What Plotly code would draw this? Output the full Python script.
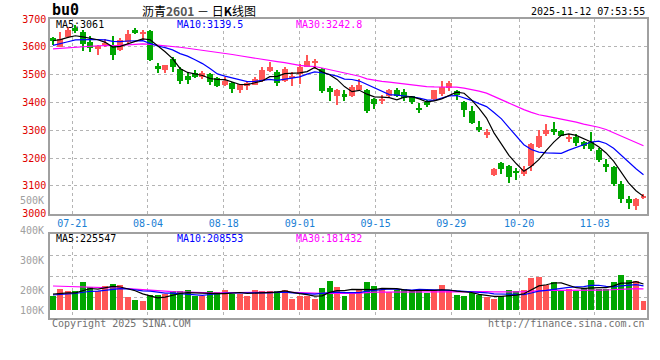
import plotly.graph_objects as go
import pandas as pd

# ---------------- data ----------------
opens = [3630, 3601, 3634, 3668, 3655, 3618, 3591, 3610, 3608, 3589,
         3618, 3659, 3645, 3658, 3531, 3515, 3558, 3522, 3494, 3505,
         3492, 3504, 3487, 3462, 3469, 3445, 3460, 3464, 3478, 3514,
         3511, 3478, 3488, 3504, 3528, 3543, 3521, 3452, 3423, 3429,
         3425, 3445, 3446, 3411, 3404, 3425, 3446, 3436, 3422, 3375,
         3402, 3412, 3431, 3451, 3440, 3402, 3369, 3313, 3283, 3140,
         3184, 3172, 3150, 3144, 3172, 3238, 3287, 3305, 3298, 3268,
         3277, 3259, 3257, 3230, 3180, 3168, 3108, 3051, 3027, 3055]
highs = [3635, 3655, 3672, 3678, 3660, 3638, 3606, 3628, 3638, 3632,
         3660, 3668, 3660, 3662, 3541, 3536, 3563, 3526, 3505, 3518,
         3512, 3506, 3492, 3490, 3472, 3462, 3475, 3490, 3526, 3545,
         3518, 3526, 3509, 3539, 3572, 3557, 3525, 3458, 3447, 3443,
         3461, 3486, 3450, 3415, 3426, 3450, 3452, 3449, 3425, 3398,
         3408, 3446, 3477, 3477, 3446, 3405, 3387, 3333, 3304, 3166,
         3187, 3175, 3164, 3172, 3253, 3301, 3322, 3328, 3300, 3286,
         3286, 3262, 3295, 3236, 3196, 3170, 3117, 3063, 3058, 3069]
lows = [3606, 3598, 3630, 3648, 3585, 3582, 3570, 3598, 3552, 3585,
        3612, 3645, 3625, 3548, 3505, 3506, 3510, 3465, 3468, 3488,
        3485, 3463, 3455, 3458, 3433, 3433, 3446, 3462, 3474, 3509,
        3460, 3474, 3458, 3467, 3526, 3521, 3435, 3406, 3390, 3407,
        3421, 3443, 3363, 3377, 3396, 3420, 3420, 3404, 3393, 3362,
        3384, 3407, 3425, 3440, 3410, 3346, 3323, 3295, 3271, 3137,
        3144, 3111, 3122, 3134, 3152, 3236, 3280, 3283, 3278, 3256,
        3245, 3233, 3224, 3186, 3149, 3099, 3039, 3018, 3015, 3051]
closes = [3621, 3629, 3660, 3656, 3612, 3595, 3604, 3614, 3570, 3624,
          3645, 3650, 3655, 3553, 3520, 3534, 3527, 3478, 3481, 3492,
          3507, 3473, 3460, 3477, 3448, 3465, 3471, 3486, 3516, 3526,
          3470, 3519, 3491, 3527, 3548, 3546, 3440, 3437, 3443, 3419,
          3455, 3464, 3368, 3395, 3413, 3446, 3425, 3417, 3402, 3373,
          3392, 3443, 3454, 3470, 3426, 3372, 3325, 3301, 3295, 3160,
          3162, 3132, 3148, 3160, 3251, 3280, 3301, 3295, 3281, 3277,
          3253, 3245, 3233, 3194, 3167, 3105, 3051, 3037, 3053, 3065]
volumes = [117600, 182000, 159600, 159600, 235200, 196000, 159600, 207200, 224000, 210000,
           109200, 89600, 75600, 131600, 131600, 140000, 159600, 159600, 168000, 117600,
           117600, 159600, 151200, 173600, 140000, 140000, 123200, 168000, 159600, 165200,
           165200, 173600, 98000, 117600, 123200, 98000, 187600, 243600, 193200, 117600,
           151200, 182000, 235200, 201600, 168000, 151200, 173600, 182000, 168000, 182000,
           145600, 173600, 210000, 159600, 131600, 117600, 145600, 131600, 109200, 98000,
           117600, 168000, 159600, 168000, 268800, 277200, 215600, 235200, 173600, 182000,
           159600, 187600, 257600, 182000, 182000, 235200, 299600, 257600, 249200, 81200]
# estimated sessions before the first visible candle (only feed the moving averages)
prior_closes = [3572, 3580, 3566, 3555, 3570, 3588, 3597, 3590, 3578, 3585,
                3600, 3606, 3595, 3588, 3597, 3604, 3592, 3585, 3593, 3599,
                3575, 3582, 3590, 3596, 3597, 3610, 3618, 3628, 3633]
prior_volumes = [230000, 265000, 250000, 280000, 245000, 220000, 255000, 270000, 240000, 260000,
                 235000, 250000, 225000, 245000, 270000, 240000, 230000, 255000, 240000, 203000,
                 118000, 135000, 122000, 110000, 135000, 150000, 138000, 162000, 132000]

date_labels = ['07-21', '08-04', '08-18', '09-01', '09-15', '09-29', '10-20', '11-03']
price_ticks = [3000, 3100, 3200, 3300, 3400, 3500, 3600, 3700]
vol_labels = ['500K', '400K', '300K', '200K', '100K']
price_ma_labels = ['MA5:3061', 'MA10:3139.5', 'MA30:3242.8']
vol_ma_labels = ['MA5:225547', 'MA10:208553', 'MA30:181432']

# ---------------- styling / layout constants ----------------
RED = '#ff5656'
GREEN = '#00a600'
MONO = 'DejaVu Sans Mono, Liberation Mono, monospace'
GRID = '#b4b4b4'
BORDER = '#a0a0a0'
W, H = 660, 360
PL, PR, PT, PB = 50, 649, 19, 318          # plot box in page pixels
L, T, R, B = PL, PT, W - PR, H - PB
PW, PH = PR - PL, PB - PT
grid_pos = [2.57, 12.71, 22.84, 33.03, 43.16, 53.29, 62.36, 72.49]
vol_label_y = [200.7, 230.7, 260.7, 290.7, 310.0]


def px(x):
    return (x - PL) / PW


def py(y):
    return (PB - y) / PH


n = len(closes)
idx = list(range(n))
all_c = pd.Series(prior_closes + closes)
all_v = pd.Series(prior_volumes + volumes)
k = len(prior_closes)
ma5 = all_c.rolling(5).mean().iloc[k:].tolist()
ma10 = all_c.rolling(10).mean().iloc[k:].tolist()
ma30 = all_c.rolling(30).mean().iloc[k:].tolist()
vma5 = all_v.rolling(5).mean().iloc[k:].tolist()
vma10 = all_v.rolling(10).mean().iloc[k:].tolist()
vma30 = all_v.rolling(30).mean().iloc[k:].tolist()

up = [c >= o for o, c in zip(opens, closes)]
fig = go.Figure()

# wicks
for flag, col in ((True, RED), (False, GREEN)):
    sel = [i for i in idx if up[i] == flag]
    fig.add_trace(go.Bar(x=sel, y=[highs[i] - lows[i] for i in sel],
                         base=[lows[i] for i in sel], width=0.14,
                         marker=dict(color=col, line=dict(width=0)),
                         xaxis='x', yaxis='y', hoverinfo='skip', showlegend=False))
# bodies
for flag, col in ((True, RED), (False, GREEN)):
    sel = [i for i in idx if up[i] == flag]
    fig.add_trace(go.Bar(x=sel, y=[max(abs(closes[i] - opens[i]), 3.6) for i in sel],
                         base=[min(opens[i], closes[i]) for i in sel], width=0.8,
                         marker=dict(color=col, line=dict(width=0)),
                         xaxis='x', yaxis='y', showlegend=False))
# volume bars
fig.add_trace(go.Bar(x=idx, y=volumes, width=0.8,
                     marker=dict(color=[RED if u else GREEN for u in up], line=dict(width=0)),
                     xaxis='x2', yaxis='y2', showlegend=False))

for ys, col, ax in ((ma30, '#ff00ff', 'y'), (ma10, '#0000ff', 'y'), (ma5, '#000000', 'y'),
                    (vma30, '#ff00ff', 'y2'), (vma10, '#0000ff', 'y2'), (vma5, '#000000', 'y2')):
    fig.add_trace(go.Scatter(x=idx, y=ys, mode='lines', line=dict(color=col, width=1.2),
                             xaxis='x' if ax == 'y' else 'x2', yaxis=ax, showlegend=False,
                             hoverinfo='skip'))

ann = []


def text(x, y, s, color='#000', size=10, anchor='left', family=MONO):
    ann.append(dict(x=px(x), y=py(y), xref='paper', yref='paper', text=s, showarrow=False,
                    xanchor=anchor, yanchor='middle', font=dict(color=color, size=size, family=family)))


text(50, 10.5, '<b>bu0</b>', size=15)
text(200, 10, '沥青<span style="color:#555"><b>2601</b></span> － 日<b>K</b>线图', size=12,
     anchor='center', family='Noto Sans CJK SC, sans-serif')
text(649, 11.5, '2025-11-12 07:53:55', anchor='right')
for lab, xx, col in zip(price_ma_labels, (54, 175, 295), ('#000000', '#0000ff', '#ff00ff')):
    text(xx, 25, lab, color=col)
for lab, xx, col in zip(vol_ma_labels, (54, 175, 295), ('#000000', '#0000ff', '#ff00ff')):
    text(xx, 238.5, lab, color=col)
for lab, yy in zip(vol_labels, vol_label_y):
    text(46, yy, lab, color='#a0a0a0', anchor='right')
text(50, 323.5, 'Copyright 2025 SINA.COM', color='#707070')
text(649, 323.5, 'http://finance.sina.com.cn', color='#707070', anchor='right')

axis_common = dict(showline=True, mirror=True, linecolor=BORDER, linewidth=1.5,
                   zeroline=False, ticks='', fixedrange=True)
fig.update_layout(
    width=W, height=H, margin=dict(l=L, r=R, t=T, b=B),
    paper_bgcolor='white', plot_bgcolor='white', barmode='overlay', bargap=0,
    showlegend=False, annotations=ann,
    xaxis=dict(domain=[0, 1], range=[-0.4, n - 0.53], anchor='y', tickmode='array',
               tickvals=grid_pos, ticktext=date_labels, showgrid=True, gridcolor=GRID,
               griddash='dot', gridwidth=1,
               tickfont=dict(color='#1a80d4', size=10, family=MONO), **axis_common),
    xaxis2=dict(domain=[0, 1], range=[-0.4, n - 0.53], anchor='y2', tickmode='array',
                tickvals=grid_pos, showticklabels=False, showgrid=True, gridcolor=GRID,
                griddash='dot', gridwidth=1, **axis_common),
    yaxis=dict(domain=[py(213.7), 1], range=[2999.9, 3700.1], tickmode='array',
               tickvals=price_ticks, ticktext=[str(v) for v in price_ticks],
               showgrid=True, gridcolor=GRID, griddash='dot', gridwidth=1,
               tickfont=dict(color='#e00000', size=10, family=MONO), **axis_common),
    yaxis2=dict(domain=[0, py(234.3)], range=[-61300, 642000], tickmode='array',
                tickvals=[115000, 291000, 466000], showticklabels=False,
                showgrid=True, gridcolor=GRID, griddash='dot', gridwidth=1, **axis_common),
)

fig.write_html('out.html', config={'displayModeBar': False},
               post_script="document.body.style.margin='0px';")
